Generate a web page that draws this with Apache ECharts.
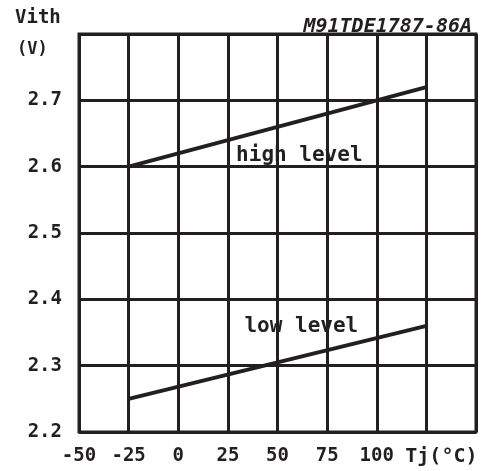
<!DOCTYPE html>
<html>
  <head>
    <meta charset="utf-8" />
    <title>Vith vs Tj</title>
    <script src="https://cdn.jsdelivr.net/npm/echarts@6/dist/echarts.min.js"></script>
  </head>
  <body style="margin: 0">
    <div id="main" style="width: 499px; height: 471px"></div>
    <script type="text/javascript">
      // values
      var temps = [-25, 125];
      var highLevel = [2.6, 2.72];
      var lowLevel = [2.25, 2.36];
      var xTicks = [-50, -25, 0, 25, 50, 75, 100, "Tj(°C)", ""];
      var yTicks = [2.2, 2.3, 2.4, 2.5, 2.6, 2.7, ""];
      var noteTexts = ["high level", "low level"];
      var notePos = [[61, 2.617], [62, 2.359]];

      var ink = "#231f20";
      var font = "DejaVu Sans Mono";

      var myChart = echarts.init(document.getElementById("main"), null, {
        renderer: "canvas",
      });

      function pairs(xs, ys) {
        return xs.map(function (x, i) {
          return [x, ys[i]];
        });
      }

      var option = {
        animation: false,
        backgroundColor: "#fff",
        grid: {
          left: 79,
          right: 23,
          top: 34,
          bottom: 39,
          show: true,
          borderColor: ink,
          borderWidth: 3,
        },
        xAxis: {
          type: "value",
          min: -50,
          max: 150,
          interval: 25,
          axisLine: { show: false },
          axisTick: { show: false },
          splitLine: { lineStyle: { color: ink, width: 3 } },
          axisLabel: {
            margin: 15,
            color: ink,
            fontFamily: font,
            fontWeight: "bold",
            fontSize: 19,
            formatter: function (v) {
              var i = Math.round((v + 50) / 25);
              var t = xTicks[i];
              if (t === "Tj(°C)") return "{u|" + t + "}";
              return String(t);
            },
            rich: {
              u: {
                color: ink,
                fontFamily: font,
                fontWeight: "bold",
                fontSize: 20,
                padding: [0, 0, 0, 30],
              },
            },
          },
        },
        yAxis: {
          type: "value",
          min: 2.2,
          max: 2.8,
          interval: 0.1,
          axisLine: { show: false },
          axisTick: { show: false },
          splitLine: { lineStyle: { color: ink, width: 3 } },
          axisLabel: {
            margin: 17,
            color: ink,
            fontFamily: font,
            fontWeight: "bold",
            fontSize: 19,
            formatter: function (v) {
              var i = Math.round((v - 2.2) * 10);
              var t = yTicks[i];
              return t === "" ? "" : t.toFixed(1);
            },
          },
        },
        graphic: [
          {
            type: "text",
            left: 15,
            top: 9,
            style: {
              text: "Vith",
              fill: ink,
              font: "bold 19px " + font,
            },
          },
          {
            type: "text",
            left: 17,
            top: 41,
            style: {
              text: "(V)",
              fill: ink,
              font: "bold 17px " + font,
            },
          },
          {
            type: "text",
            right: 27,
            top: 17,
            style: {
              text: "M91TDE1787-86A",
              fill: ink,
              font: "italic bold 20px " + font,
            },
          },
        ],
        series: [
          {
            type: "line",
            data: pairs(temps, highLevel),
            symbol: "none",
            lineStyle: { color: ink, width: 4 },
          },
          {
            type: "line",
            data: pairs(temps, lowLevel),
            symbol: "none",
            lineStyle: { color: ink, width: 4 },
          },
          {
            type: "scatter",
            symbolSize: 0,
            itemStyle: { opacity: 1, color: ink },
            data: notePos.map(function (p, i) {
              return { value: p, name: noteTexts[i] };
            }),
            label: {
              show: true,
              position: "inside",
              formatter: "{b}",
              color: ink,
              opacity: 1,
              fontFamily: font,
              fontWeight: "bold",
              fontSize: 21,
            },
          },
        ],
      };

      myChart.setOption(option);
    </script>
  </body>
</html>
